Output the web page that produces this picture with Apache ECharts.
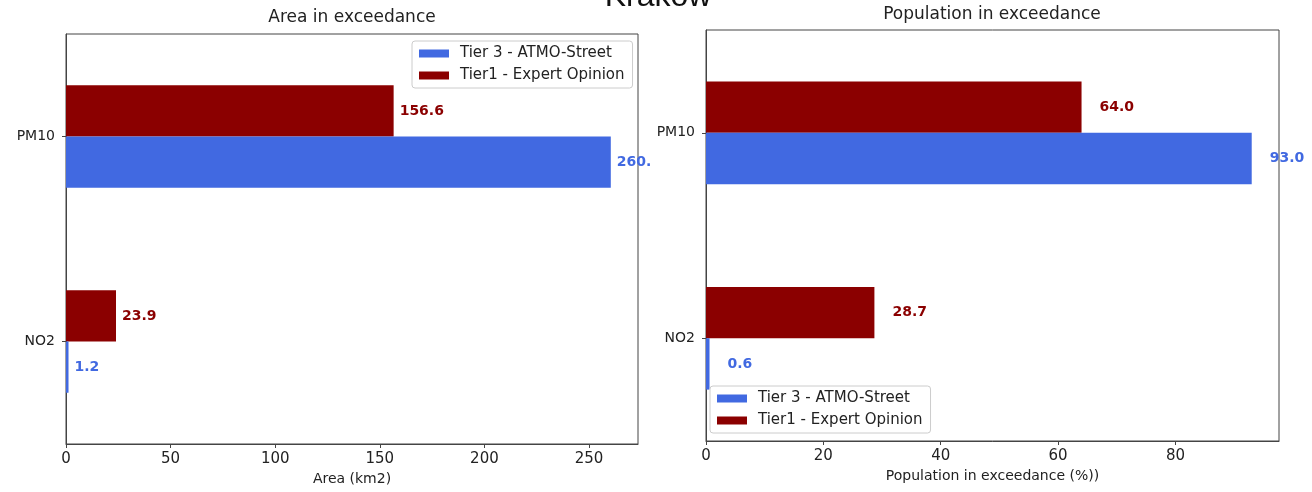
<!DOCTYPE html>
<html>
<head>
<meta charset="utf-8">
<script src="https://cdn.jsdelivr.net/npm/echarts@6/dist/echarts.min.js"></script>
<style>
  html, body { margin: 0; padding: 0; background: #fff; }
  #chart { width: 1312px; height: 492px; }
</style>
</head>
<body>
<div id="chart"></div>
<script>
// pollutants, bottom to top
var categories = ['NO2', 'PM10'];
var seriesNames = ['Tier 3 - ATMO-Street', 'Tier1 - Expert Opinion'];
// Area in exceedance (km2)
var areaTier3 = [1.2, 260.4];
var areaTier1 = [23.9, 156.6];
// Population in exceedance (%)
var popTier3 = [0.6, 93.0];
var popTier1 = [28.7, 64.0];
var areaTicks = [0, 50, 100, 150, 200, 250];
var popTicks = [0, 20, 40, 60, 80];

var BLUE = '#4169e1';
var RED = '#8b0000';
var FONT = 'DejaVu Sans';

var chart = echarts.init(document.getElementById('chart'));

function catAxis(gridIndex) {
    return {
        type: 'category',
        gridIndex: gridIndex,
        data: categories,
        axisLine: { show: true, lineStyle: { color: '#444', width: 1 } },
        axisTick: { show: true, alignWithLabel: true, length: 4, lineStyle: { color: '#444' } },
        axisLabel: { color: '#222', fontFamily: FONT, fontSize: 14, margin: 11 }
    };
}

function valAxis(gridIndex, max, step, ticks, name) {
    return {
        type: 'value',
        gridIndex: gridIndex,
        min: 0,
        max: max,
        interval: step,
        name: name,
        nameLocation: 'middle',
        nameGap: 27,
        nameTextStyle: { color: '#222', fontFamily: FONT, fontSize: 14 },
        splitLine: { show: false },
        axisLine: { show: true, lineStyle: { color: '#444', width: 1 } },
        axisTick: { show: true, length: 4, lineStyle: { color: '#444' } },
        axisLabel: {
            color: '#222', fontFamily: FONT, fontSize: 15, margin: 8,
            showMaxLabel: false,
            formatter: function (v) { return ticks.indexOf(v) >= 0 ? String(v) : ''; }
        }
    };
}

function barSeries(name, data, color, xi, dist) {
    return {
        name: name,
        type: 'bar',
        xAxisIndex: xi,
        yAxisIndex: xi,
        data: data,
        barWidth: '25%',
        barGap: '0%',
        itemStyle: { color: color },
        label: {
            show: true,
            position: 'right',
            distance: dist,
            color: color,
            fontFamily: FONT,
            fontWeight: 'bold',
            fontSize: 14,
            formatter: function (p) { return p.value.toFixed(1); }
        }
    };
}

function legendAt(pos) {
    return Object.assign({
        data: seriesNames,
        orient: 'vertical',
        icon: 'rect',
        itemWidth: 30,
        itemHeight: 8,
        itemGap: 7,
        padding: [5, 8, 5, 7],
        backgroundColor: '#fff',
        borderColor: '#ccc',
        borderWidth: 1,
        borderRadius: 3,
        textStyle: { color: '#222', fontFamily: FONT, fontSize: 15, padding: [0, 0, 0, 6] }
    }, pos);
}

chart.setOption({
    backgroundColor: '#fff',
    animation: false,
    graphic: [
        { type: 'text', style: { x: 658, y: -3, text: 'Krakow', textAlign: 'center', textVerticalAlign: 'middle', fill: '#111', font: '32px "Liberation Sans"' } },
        { type: 'text', style: { x: 352, y: 18, text: 'Area in exceedance', textAlign: 'center', textVerticalAlign: 'middle', fill: '#222', font: '17px "DejaVu Sans"' } },
        { type: 'text', style: { x: 992, y: 15, text: 'Population in exceedance', textAlign: 'center', textVerticalAlign: 'middle', fill: '#222', font: '17px "DejaVu Sans"' } },
        // the source image cuts the left panel off here
        { type: 'rect', z: 100, shape: { x: 651, y: 148, width: 20, height: 24 }, style: { fill: '#fff' } }
    ],
    grid: [
        { left: 66, right: 674, top: 34, bottom: 48, show: true, borderColor: '#444', borderWidth: 1, backgroundColor: '#fff' },
        { left: 706, right: 33, top: 30, bottom: 51, show: true, borderColor: '#444', borderWidth: 1, backgroundColor: '#fff' }
    ],
    legend: [
        legendAt({ left: 412, top: 41 }),
        legendAt({ left: 710, top: 386 })
    ],
    xAxis: [
        valAxis(0, 273.4, 50, areaTicks, 'Area (km2)'),
        valAxis(1, 97.65, 20, popTicks, 'Population in exceedance (%))')
    ],
    yAxis: [catAxis(0), catAxis(1)],
    series: [
        barSeries(seriesNames[1], areaTier1, RED, 0, 6),
        barSeries(seriesNames[0], areaTier3, BLUE, 0, 6),
        barSeries(seriesNames[1], popTier1, RED, 1, 18),
        barSeries(seriesNames[0], popTier3, BLUE, 1, 18)
    ]
});
</script>
</body>
</html>
